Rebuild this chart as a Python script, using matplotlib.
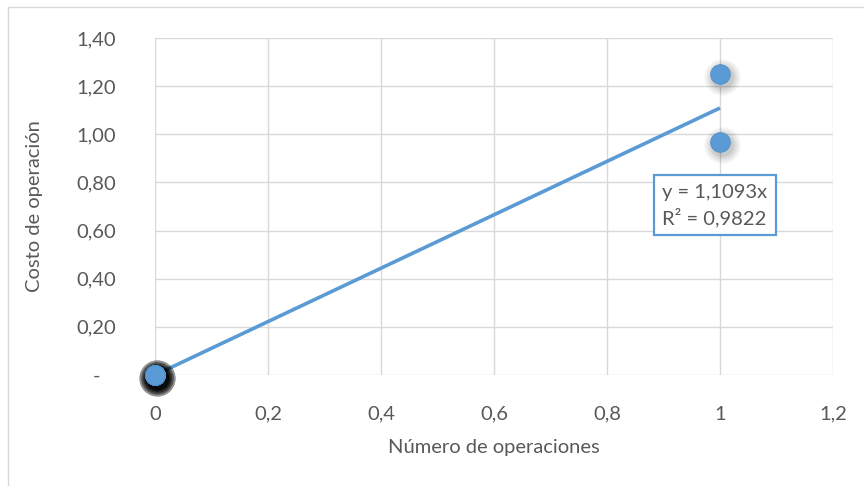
import matplotlib

matplotlib.use("Agg")
import matplotlib.pyplot as plt
import matplotlib.transforms as mtransforms
from matplotlib.patches import Rectangle
from matplotlib.ticker import FixedLocator, FuncFormatter
import numpy as np

# observations: many operations cost nothing, two single operations with a cost
num_operaciones = [0] * 12 + [1, 1]
costo_operacion = [0.0] * 12 + [1.25, 0.97]
pendiente = 1.1093
r_cuadrado = 0.9822

x_ticks = [0, 0.2, 0.4, 0.6, 0.8, 1, 1.2]
y_ticks = [0, 0.2, 0.4, 0.6, 0.8, 1.0, 1.2, 1.4]

BLUE = "#5B9BD5"
GRID = "#D9D9D9"
TEXT = "#595959"

plt.rcParams["font.family"] = ["Lato", "DejaVu Sans"]

fig = plt.figure(figsize=(8.64, 4.86), dpi=100)
fig.patches.append(Rectangle((8 / 864, -0.1), 1.2, 1 - 7 / 486 + 0.1, transform=fig.transFigure,
                             fill=False, edgecolor=GRID, linewidth=1.0))

ax = fig.add_axes([155 / 864, 1 - 375 / 486, (833 - 155) / 864, (375 - 38) / 486])
ax.set_xlim(0, 1.2)
ax.set_ylim(0, 1.4)

for spine in ax.spines.values():
    spine.set_visible(False)
ax.xaxis.set_major_locator(FixedLocator(x_ticks))
ax.yaxis.set_major_locator(FixedLocator(y_ticks))
ax.grid(True, color=GRID, linewidth=1.0)
ax.set_axisbelow(True)
ax.tick_params(length=0, labelsize=14.5, labelcolor=TEXT)
ax.tick_params(axis="x", pad=22)
ax.tick_params(axis="y", pad=28)


def fmt_x(v, _):
    return f"{v:g}".replace(".", ",")


def fmt_y(v, _):
    if abs(v) < 1e-9:
        return "-   "
    return f"{v:.2f}".replace(".", ",")


ax.xaxis.set_major_formatter(FuncFormatter(fmt_x))
ax.yaxis.set_major_formatter(FuncFormatter(fmt_y))

# trend line through the origin
xs = np.array([0.0, max(num_operaciones)])
ax.plot(xs, pendiente * xs, color=BLUE, linewidth=2.6, solid_capstyle="butt", zorder=3, clip_on=False)

# soft drop shadow under each marker
shadow = mtransforms.offset_copy(ax.transData, fig=fig, x=1.5, y=-3, units="dots")
for size in (680, 540, 420, 330, 260):
    ax.scatter(num_operaciones, costo_operacion, s=size, color="black", alpha=0.045,
               linewidths=0, transform=shadow, zorder=4, clip_on=False)

ax.scatter(num_operaciones, costo_operacion, s=200, color=BLUE, edgecolors="#4F8FCB",
           linewidths=0.6, zorder=5, clip_on=False)

label = f"y = {pendiente:.4f}x\nR² = {r_cuadrado:.4f}".replace(".", ",")
ax.text(0.898, 0.705, label, fontsize=14.5, color=TEXT, ha="left", va="center", linespacing=1.4,
        bbox=dict(boxstyle="square,pad=0.42", facecolor="white", edgecolor=BLUE, linewidth=1.6),
        zorder=6)

ax.set_xlabel("Número de operaciones", fontsize=14.5, color=TEXT, labelpad=12)
ax.set_ylabel("Costo de operación", fontsize=14.5, color=TEXT, labelpad=24)

fig.savefig("out.png", dpi=100)
